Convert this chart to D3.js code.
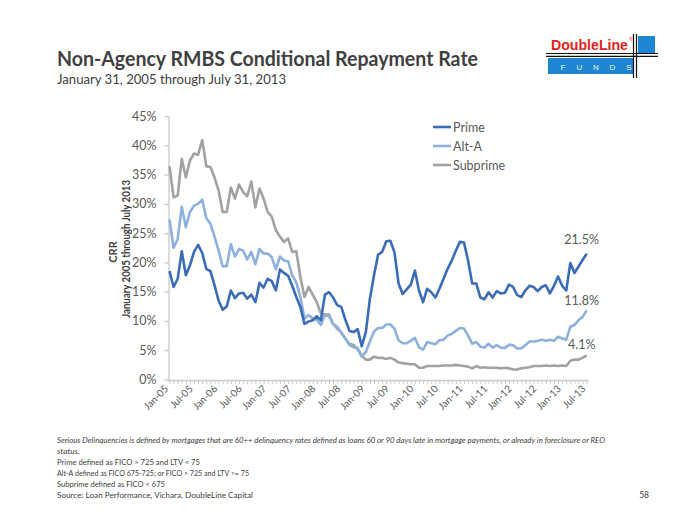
<!DOCTYPE html>
<html><head><meta charset="utf-8">
<script src="https://cdn.jsdelivr.net/npm/d3@7"></script>
<style>body{margin:0;background:#fff}svg{display:block}</style>
</head><body>
<svg id="c" width="700" height="525"></svg>
<script>
// ---------- DATA (CRR, %, monthly Jan-05 .. Jul-13) ----------
const prime = [
  18.5,15.8,17.2,21.9,17.8,19.5,21.8,23.0,21.6,18.9,18.5,16.1,   // 2005
  13.5,11.9,12.5,15.2,13.9,14.7,14.8,13.8,14.5,13.2,16.5,15.7,   // 2006
  17.2,16.8,15.2,18.8,18.2,17.7,16.0,14.1,12.4, 9.5, 9.9,10.1,   // 2007
  10.8,10.1,14.5,14.9,14.0,12.7,12.4,10.2, 8.3, 8.1, 8.6, 5.7,   // 2008
   8.1,13.8,17.8,21.3,21.8,23.6,23.7,21.7,16.4,14.6,15.4,16.2,   // 2009
  18.6,15.2,13.2,15.5,14.9,14.0,15.5,17.2,18.9,20.3,22.0,23.5,   // 2010
  23.4,20.3,16.4,16.4,14.0,13.7,14.9,14.0,15.1,14.7,14.8,16.2,   // 2011
  15.8,14.4,14.1,15.2,16.0,15.8,15.1,15.8,16.1,14.7,16.0,17.6,   // 2012
  16.0,15.2,19.9,18.2,19.3,20.4,21.5                              // 2013
];
const altA = [
  27.3,22.5,24.0,29.5,26.0,28.6,29.7,30.0,30.7,27.6,26.6,24.4,
  22.0,19.3,19.4,23.1,21.0,22.3,22.0,20.5,21.8,19.7,22.3,21.5,
  21.5,20.9,18.8,21.0,20.3,20.2,17.8,16.6,14.1,10.4,11.0,10.4,
  10.2, 9.3,11.0,10.8, 9.5, 9.0, 8.0, 7.0, 5.9, 5.5, 5.4, 3.9,
   4.7, 6.5, 8.2, 8.8, 8.8, 9.4, 9.4, 8.7, 6.7, 6.2, 6.2, 6.6,
   7.1, 5.5, 5.1, 6.4, 6.2, 6.0, 6.7, 6.8, 7.5, 7.8, 8.3, 8.8,
   8.7, 7.5, 6.1, 6.4, 5.6, 5.45,6.1, 5.45,5.85,5.45,5.4, 5.95,
   5.85,5.3, 5.3, 5.85,6.5, 6.5, 6.6, 6.8, 6.6, 6.8, 6.6, 7.3,
   7.0, 6.8, 9.0, 9.3,10.1,10.7,11.8
];
const subprime = [
  36.4,31.1,31.4,37.7,34.5,37.4,38.6,38.4,40.9,36.4,36.3,34.5,
  32.3,28.6,28.6,32.8,30.9,33.3,32.0,31.3,33.8,29.4,32.6,30.9,
  28.6,27.8,25.5,24.4,23.5,24.1,21.8,21.9,17.5,14.1,15.8,14.5,
  13.2,11.3,11.1,11.1, 9.5, 8.7, 8.0, 7.0, 6.1, 5.9, 5.1, 4.1,
   3.4, 3.4, 3.9, 3.7, 3.7, 3.5, 3.7, 3.4, 2.9, 2.8, 2.7, 2.6,
   2.6, 2.0, 2.0, 2.3, 2.3, 2.3, 2.3, 2.4, 2.4, 2.4, 2.5, 2.4,
   2.3, 2.2, 1.9, 2.3, 2.0, 2.1, 2.0, 2.0, 2.0, 1.9, 2.0, 1.9,
   1.7, 1.7, 1.9, 2.0, 2.1, 2.3, 2.3, 2.3, 2.4, 2.3, 2.4, 2.3,
   2.4, 2.3, 3.2, 3.4, 3.4, 3.75,4.1
];
const seriesNames = ["Prime","Alt-A","Subprime"];
const xTickLabels = ["Jan-05","Jul-05","Jan-06","Jul-06","Jan-07","Jul-07","Jan-08","Jul-08",
  "Jan-09","Jul-09","Jan-10","Jul-10","Jan-11","Jul-11","Jan-12","Jul-12","Jan-13","Jul-13"];
const yTickValues = [0,5,10,15,20,25,30,35,40,45];
const endLabels = ["21.5%","11.8%","4.1%"];

// ---------- STYLE ----------
const colors = ["#3a6db6","#8db0dc","#a2a2a2"];
const FONT = "Lato, 'Open Sans', sans-serif";
const svg = d3.select("#c");
const nMonths = prime.length;

const x = d3.scaleLinear().domain([0, nMonths - 1]).range([169.5, 586.7]);
const y = d3.scaleLinear().domain([0, 45]).range([379.5, 116]);

// Title
svg.append("text").attr("x",57).attr("y",66).attr("font-family",FONT).attr("font-weight","bold")
  .attr("font-size",20.5).attr("fill","#404040").attr("textLength",421).attr("lengthAdjust","spacingAndGlyphs")
  .text("Non-Agency RMBS Conditional Repayment Rate");
svg.append("text").attr("x",57).attr("y",84).attr("font-family",FONT)
  .attr("font-size",14).attr("fill","#404040").attr("textLength",229).attr("lengthAdjust","spacingAndGlyphs")
  .text("January 31, 2005 through July 31, 2013");

// Logo
const logo = svg.append("g");
logo.append("text").attr("x",551).attr("y",50).attr("font-family","'Liberation Sans', Arial, sans-serif")
  .attr("font-weight","bold").attr("font-size",14).attr("fill","#e2231a")
  .attr("textLength",77).attr("lengthAdjust","spacingAndGlyphs").text("DoubleLine");
logo.append("text").attr("x",629).attr("y",41).attr("font-family","'Liberation Sans', Arial, sans-serif")
  .attr("font-size",5).attr("fill","#e2231a").text("®");
logo.append("rect").attr("x",548).attr("y",58).attr("width",86).attr("height",16).attr("fill","#1f86d3");
logo.append("rect").attr("x",638).attr("y",36).attr("width",17).attr("height",17).attr("fill","#1f86d3");
["F","U","N","D","S"].forEach((c,i)=>{
  logo.append("text").attr("x",563+i*16.5).attr("y",69.5).attr("text-anchor","middle")
    .attr("font-family","'Liberation Sans', Arial, sans-serif").attr("font-size",8)
    .attr("fill","#e8f2fb").text(c);
});
[53.5,56.3].forEach(yy=>logo.append("line").attr("x1",546).attr("x2",658).attr("y1",yy).attr("y2",yy)
  .attr("stroke","#111").attr("stroke-width",1.2));
[633.5,636.5].forEach(xx=>logo.append("line").attr("x1",xx).attr("x2",xx).attr("y1",34).attr("y2",78)
  .attr("stroke","#111").attr("stroke-width",1.2));

// Axes
const axisColor = "#c9c9c9";
const yAxis = svg.append("g").attr("transform","translate(168.5,0)")
  .call(d3.axisLeft(y).tickValues(yTickValues).tickSize(4).tickSizeOuter(0).tickPadding(8).tickFormat(d=>d+"%"));
yAxis.select(".domain").attr("stroke",axisColor).attr("stroke-width",1.3);
yAxis.selectAll(".tick line").attr("stroke",axisColor).attr("stroke-width",1.3);
yAxis.selectAll(".tick text").attr("font-family",FONT).attr("font-size",12.5).attr("fill","#595959");

const xAxis = svg.append("g").attr("transform","translate(0,380)")
  .call(d3.axisBottom(x).tickValues(d3.range(nMonths)).tickSize(4).tickSizeOuter(0).tickFormat(""));
xAxis.select(".domain").attr("stroke",axisColor).attr("stroke-width",1.3).attr("d","M168,0.5H588.5");
xAxis.selectAll(".tick line").attr("stroke",axisColor).attr("stroke-width",1);

svg.append("g").selectAll("text").data(xTickLabels).join("text")
  .attr("transform",(d,i)=>`translate(${x(i*6)-3},${387}) rotate(-45)`)
  .attr("text-anchor","end").attr("dy","0.35em")
  .attr("font-family",FONT).attr("font-size",10).attr("fill","#595959").text(d=>d);

// Y axis title
svg.append("text").attr("transform","translate(117,252) rotate(-90)").attr("text-anchor","middle")
  .attr("font-family",FONT).attr("font-weight","bold").attr("font-size",11).attr("fill","#404040").text("CRR");
svg.append("text").attr("transform","translate(130,249) rotate(-90)").attr("text-anchor","middle")
  .attr("font-family",FONT).attr("font-weight","bold").attr("font-size",11).attr("fill","#404040")
  .attr("textLength",138).attr("lengthAdjust","spacingAndGlyphs").text("January 2005 through July 2013");

// Lines
const allSeries = [prime, altA, subprime];
const line = d3.line().x((d,i)=>x(i)).y(d=>y(d)).curve(d3.curveLinear);
[2,1,0].forEach(k=>{
  svg.append("path").datum(allSeries[k]).attr("d",line).attr("fill","none")
    .attr("stroke",colors[k]).attr("stroke-width",2.6).attr("stroke-linejoin","round");
});

// End labels
const endDy = [-10,-5,-6];
endLabels.forEach((t,k)=>{
  const s = allSeries[k];
  svg.append("text").attr("x",x(nMonths-1)-5).attr("y",y(s[s.length-1])+endDy[k])
    .attr("text-anchor","middle").attr("font-family",FONT).attr("font-size",12.5).attr("fill","#595959").text(t);
});

// Legend
seriesNames.forEach((n,k)=>{
  const ly = 127 + k*19;
  svg.append("line").attr("x1",433).attr("x2",451).attr("y1",ly).attr("y2",ly)
    .attr("stroke",colors[k]).attr("stroke-width",2.6);
  svg.append("text").attr("x",453).attr("y",ly+4.5).attr("font-family",FONT).attr("font-size",12.5)
    .attr("fill","#595959").text(n);
});

// Footnotes
const notes = [
  {t:"Serious Delinquencies is defined by mortgages that are 60++ delinquency rates defined as loans 60  or 90 days late in mortgage payments, or already in foreclosure or REO", it:true, w:548},
  {t:"status.", it:true, w:23},
  {t:"Prime defined as FICO > 725 and LTV < 75", it:false, w:143},
  {t:"Alt-A defined as FICO 675-725; or FICO > 725 and LTV >= 75", it:false, w:192},
  {t:"Subprime defined as FICO < 675", it:false, w:108},
  {t:"Source: Loan Performance, Vichara, DoubleLine Capital", it:false, w:196}
];
notes.forEach((n,i)=>{
  svg.append("text").attr("x",57).attr("y",443+i*11).attr("font-family",FONT).attr("font-size",7.6)
    .attr("font-style",n.it?"italic":"normal").attr("fill","#404040")
    .attr("textLength",n.w).attr("lengthAdjust","spacingAndGlyphs").text(n.t);
});
svg.append("text").attr("x",649).attr("y",498).attr("text-anchor","end").attr("font-family",FONT)
  .attr("font-size",8.5).attr("fill","#404040").text("58");
</script>
</body></html>
